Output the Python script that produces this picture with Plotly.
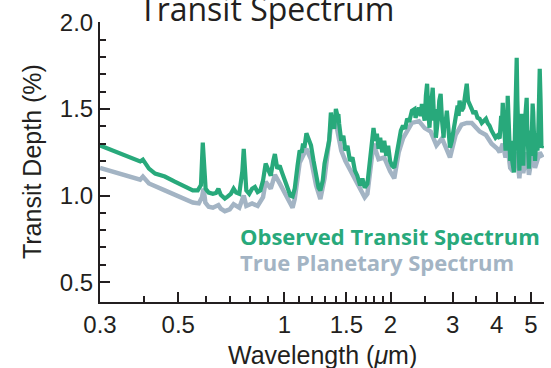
import plotly.graph_objects as go
import math

# ---- data ----
obs_wl = [0.300, 0.320, 0.342, 0.365, 0.390, 0.397, 0.402, 0.413, 0.430, 0.458, 0.489, 0.522, 0.550, 0.568,
          0.580, 0.587, 0.592, 0.598, 0.610, 0.627, 0.640, 0.650, 0.660, 0.678, 0.690, 0.705, 0.718, 0.730,
          0.745, 0.760, 0.767, 0.772, 0.780, 0.795, 0.810, 0.825, 0.840, 0.855, 0.870, 0.885, 0.900, 0.915,
          0.930, 0.940, 0.955, 0.970, 0.985, 1.000, 1.020, 1.040, 1.055, 1.070, 1.090, 1.105, 1.120, 1.140,
          1.155, 1.170, 1.190, 1.210, 1.230, 1.250, 1.265, 1.285, 1.300, 1.320, 1.340, 1.355, 1.370, 1.385,
          1.400, 1.415, 1.430, 1.450, 1.470, 1.490, 1.510, 1.535, 1.560, 1.585, 1.610, 1.640, 1.665, 1.690,
          1.720, 1.745, 1.770, 1.790, 1.810, 1.830, 1.850, 1.870, 1.895, 1.920, 1.945, 1.970, 1.995, 2.020,
          2.050, 2.080, 2.110, 2.140, 2.170, 2.200, 2.230, 2.260, 2.300, 2.340, 2.380, 2.410, 2.440, 2.470,
          2.500, 2.520, 2.540, 2.560, 2.580, 2.610, 2.635, 2.660, 2.690, 2.720, 2.750, 2.775, 2.800, 2.830,
          2.860, 2.890, 2.920, 2.950, 2.985, 3.020, 3.060, 3.100, 3.140, 3.180, 3.220, 3.260, 3.291, 3.320,
          3.356, 3.400, 3.440, 3.480, 3.530, 3.580, 3.630, 3.680, 3.730, 3.770, 3.820, 3.870, 3.920, 3.970,
          4.020, 4.080, 4.120, 4.163, 4.200, 4.240, 4.270, 4.300, 4.330, 4.370, 4.410, 4.450, 4.480, 4.510,
          4.540, 4.560, 4.580, 4.610, 4.640, 4.670, 4.700, 4.730, 4.760, 4.790, 4.830, 4.867, 4.900, 4.940,
          4.980, 5.020, 5.060, 5.100, 5.140, 5.180, 5.220, 5.260, 5.300, 5.330, 5.360, 5.400,
          # extra samples in the noisy parts of the spectrum
          1.130, 1.365, 1.392, 1.423, 2.355, 2.455, 2.595, 2.675, 2.735, 2.845, 2.905, 3.040, 3.120,
          4.140, 4.220, 4.285, 4.390, 4.430, 4.495, 4.625, 4.685, 4.745, 4.810, 4.885, 4.960, 5.000,
          5.040, 5.080, 5.120, 5.160, 5.200, 5.240, 5.280]
obs_depth = [1.290, 1.268, 1.244, 1.221, 1.197, 1.208, 1.190, 1.156, 1.127, 1.110, 1.080, 1.050, 1.030, 1.030,
             1.060, 1.306, 1.200, 1.040, 1.017, 1.010, 1.015, 1.040, 1.005, 0.983, 0.994, 1.010, 1.040, 1.017,
             1.010, 1.140, 1.270, 1.200, 1.030, 1.010, 1.040, 1.050, 1.020, 1.030, 1.087, 1.185, 1.144, 1.115,
             1.200, 1.240, 1.156, 1.173, 1.133, 1.098, 1.046, 1.000, 0.995, 1.040, 1.173, 1.260, 1.250, 1.277,
             1.360, 1.330, 1.290, 1.200, 1.115, 1.046, 1.030, 1.087, 1.185, 1.260, 1.317, 1.480, 1.430, 1.386,
             1.500, 1.460, 1.415, 1.317, 1.346, 1.260, 1.288, 1.200, 1.220, 1.144, 1.115, 1.058, 1.098, 1.046,
             1.069, 1.200, 1.288, 1.390, 1.317, 1.358, 1.270, 1.334, 1.250, 1.317, 1.230, 1.288, 1.200, 1.173,
             1.161, 1.230, 1.317, 1.375, 1.404, 1.386, 1.444, 1.427, 1.490, 1.500, 1.473, 1.508, 1.460, 1.490,
             1.433, 1.577, 1.646, 1.490, 1.392, 1.520, 1.623, 1.433, 1.334, 1.404, 1.548, 1.588, 1.433, 1.334,
             1.404, 1.490, 1.346, 1.277, 1.317, 1.375, 1.433, 1.520, 1.548, 1.490, 1.508, 1.588, 1.646, 1.548,
             1.531, 1.500, 1.473, 1.490, 1.450, 1.444, 1.420, 1.433, 1.444, 1.420, 1.404, 1.375, 1.358, 1.334,
             1.346, 1.330, 1.460, 1.536, 1.375, 1.260, 1.490, 1.577, 1.346, 1.200, 1.317, 1.173, 1.133, 1.375,
             1.690, 1.796, 1.548, 1.200, 1.144, 1.346, 1.473, 1.260, 1.173, 1.375, 1.500, 1.565, 1.317, 1.156,
             1.375, 1.230, 1.531, 1.375, 1.200, 1.317, 1.260, 1.433, 1.732, 1.548, 1.277, 1.290,
             1.300, 1.400, 1.440, 1.470, 1.450, 1.530, 1.480, 1.500, 1.470, 1.450, 1.420, 1.400, 1.460,
             1.400, 1.300, 1.420, 1.280, 1.200, 1.250, 1.250, 1.420, 1.200, 1.450, 1.400, 1.270, 1.300,
             1.400, 1.480, 1.280, 1.260, 1.360, 1.300, 1.600]

true_wl = [0.300, 0.342, 0.390, 0.397, 0.405, 0.413, 0.458, 0.489, 0.522, 0.550, 0.572, 0.584, 0.590, 0.597,
           0.610, 0.627, 0.650, 0.660, 0.678, 0.700, 0.718, 0.745, 0.767, 0.780, 0.810, 0.840, 0.870, 0.885,
           0.915, 0.940, 0.970, 1.000, 1.040, 1.055, 1.070, 1.105, 1.155, 1.190, 1.230, 1.265, 1.300, 1.355,
           1.400, 1.450, 1.490, 1.535, 1.610, 1.690, 1.720, 1.770, 1.790, 1.850, 1.920, 1.995, 2.050, 2.110,
           2.170, 2.300, 2.410, 2.500, 2.600, 2.700, 2.800, 2.950, 3.060, 3.180, 3.291, 3.400, 3.580, 3.730,
           3.870, 4.020, 4.080, 4.163, 4.240, 4.300, 4.370, 4.450, 4.500, 4.560, 4.640, 4.700, 4.760, 4.867,
           4.940, 5.060, 5.140, 5.220, 5.300, 5.400]
true_depth = [1.160, 1.127, 1.092, 1.110, 1.085, 1.070, 1.030, 1.005, 0.980, 0.960, 0.955, 0.990, 1.040, 0.960,
              0.935, 0.930, 0.945, 0.925, 0.910, 0.920, 0.950, 0.930, 1.000, 0.940, 0.955, 0.940, 0.990, 1.080,
              1.040, 1.120, 1.070, 1.020, 0.950, 0.930, 0.980, 1.190, 1.270, 1.210, 1.060, 0.980, 1.100, 1.400,
              1.420, 1.260, 1.200, 1.150, 1.060, 0.990, 1.010, 1.210, 1.300, 1.210, 1.220, 1.140, 1.100, 1.250,
              1.330, 1.420, 1.430, 1.390, 1.370, 1.290, 1.330, 1.220, 1.350, 1.410, 1.420, 1.420, 1.370, 1.350,
              1.300, 1.270, 1.250, 1.300, 1.220, 1.280, 1.160, 1.140, 1.190, 1.250, 1.100, 1.240, 1.130, 1.250,
              1.120, 1.250, 1.160, 1.210, 1.250, 1.220]

x_tick_vals = [0.3, 0.5, 1, 1.5, 2, 3, 4, 5]
x_tick_text = ["0.3", "0.5", "1", "1.5", "2", "3", "4", "5"]
x_minor_vals = [0.4, 0.6, 0.7, 0.8, 0.9, 1.1, 1.2, 1.3, 1.4, 1.6, 1.7, 1.8, 1.9, 2.5, 3.5, 4.5]
y_tick_vals = [0.5, 1.0, 1.5, 2.0]
y_tick_text = ["0.5", "1.0", "1.5", "2.0"]
y_minor_vals = [0.6, 0.7, 0.8, 0.9, 1.1, 1.2, 1.3, 1.4, 1.6, 1.7, 1.8, 1.9]

# order the observed samples by wavelength
_pairs = sorted(zip(obs_wl, obs_depth))
obs_x = [p[0] for p in _pairs]
obs_y = [p[1] for p in _pairs]

GREEN = "#28a97b"
GRAY = "#a3b4c4"
INK = "#231f20"

fig = go.Figure()
fig.add_trace(go.Scatter(x=true_wl, y=true_depth, mode="lines",
                         line=dict(color=GRAY, width=4.5), showlegend=False))
fig.add_trace(go.Scatter(x=obs_x, y=obs_y, mode="lines",
                         line=dict(color=GREEN, width=4.2), showlegend=False))

axis_font = dict(family="Liberation Sans, Arial, sans-serif", size=24, color=INK)

fig.update_layout(
    width=551, height=368, autosize=False,
    margin=dict(l=100, r=7, t=22, b=66),
    paper_bgcolor="white", plot_bgcolor="white",
    xaxis=dict(type="log", range=[math.log10(0.3), math.log10(5.45)],
               tickmode="array", tickvals=x_tick_vals, ticktext=x_tick_text,
               ticks="inside", ticklen=10, tickwidth=1.5, tickcolor=INK,
               minor=dict(tickmode="array", tickvals=x_minor_vals, ticks="inside",
                          ticklen=6, tickwidth=1.5, tickcolor=INK),
               showline=True, linecolor=INK, linewidth=2, showgrid=False, zeroline=False,
               tickfont=axis_font),
    yaxis=dict(range=[0.385, 2.003],
               tickmode="array", tickvals=y_tick_vals, ticktext=y_tick_text,
               ticks="inside", ticklen=10, tickwidth=1.5, tickcolor=INK,
               minor=dict(tickmode="array", tickvals=y_minor_vals, ticks="inside",
                          ticklen=6, tickwidth=1.5, tickcolor=INK),
               showline=True, linecolor=INK, linewidth=2, showgrid=False, zeroline=False,
               tickfont=axis_font),
    annotations=[
        dict(text="Transit Spectrum", xref="paper", yref="paper", x=0.374, y=0.963,
             xanchor="center", yanchor="bottom", showarrow=False,
             font=dict(family="Open Sans", size=32, color=INK)),
        dict(text="Transit Depth (%)", xref="paper", yref="paper", x=-0.153, y=0.5,
             xanchor="center", yanchor="middle", textangle=-90, showarrow=False,
             font=dict(family="Liberation Sans, Arial, sans-serif", size=25, color=INK)),
        dict(text="Wavelength (<i>μ</i>m)", xref="paper", yref="paper", x=0.5, y=-0.189,
             xanchor="center", yanchor="middle", showarrow=False,
             font=dict(family="Liberation Sans, Arial, sans-serif", size=25, color=INK)),
        dict(text="<b>Observed Transit Spectrum</b>", xref="paper", yref="paper", x=0.311, y=0.237,
             xanchor="left", yanchor="middle", showarrow=False,
             font=dict(family="Open Sans", size=22, color=GREEN)),
        dict(text="<b>True Planetary Spectrum</b>", xref="paper", yref="paper", x=0.311, y=0.142,
             xanchor="left", yanchor="middle", showarrow=False,
             font=dict(family="Open Sans", size=22, color=GRAY)),
    ],
)

fig.write_html("out.html")
